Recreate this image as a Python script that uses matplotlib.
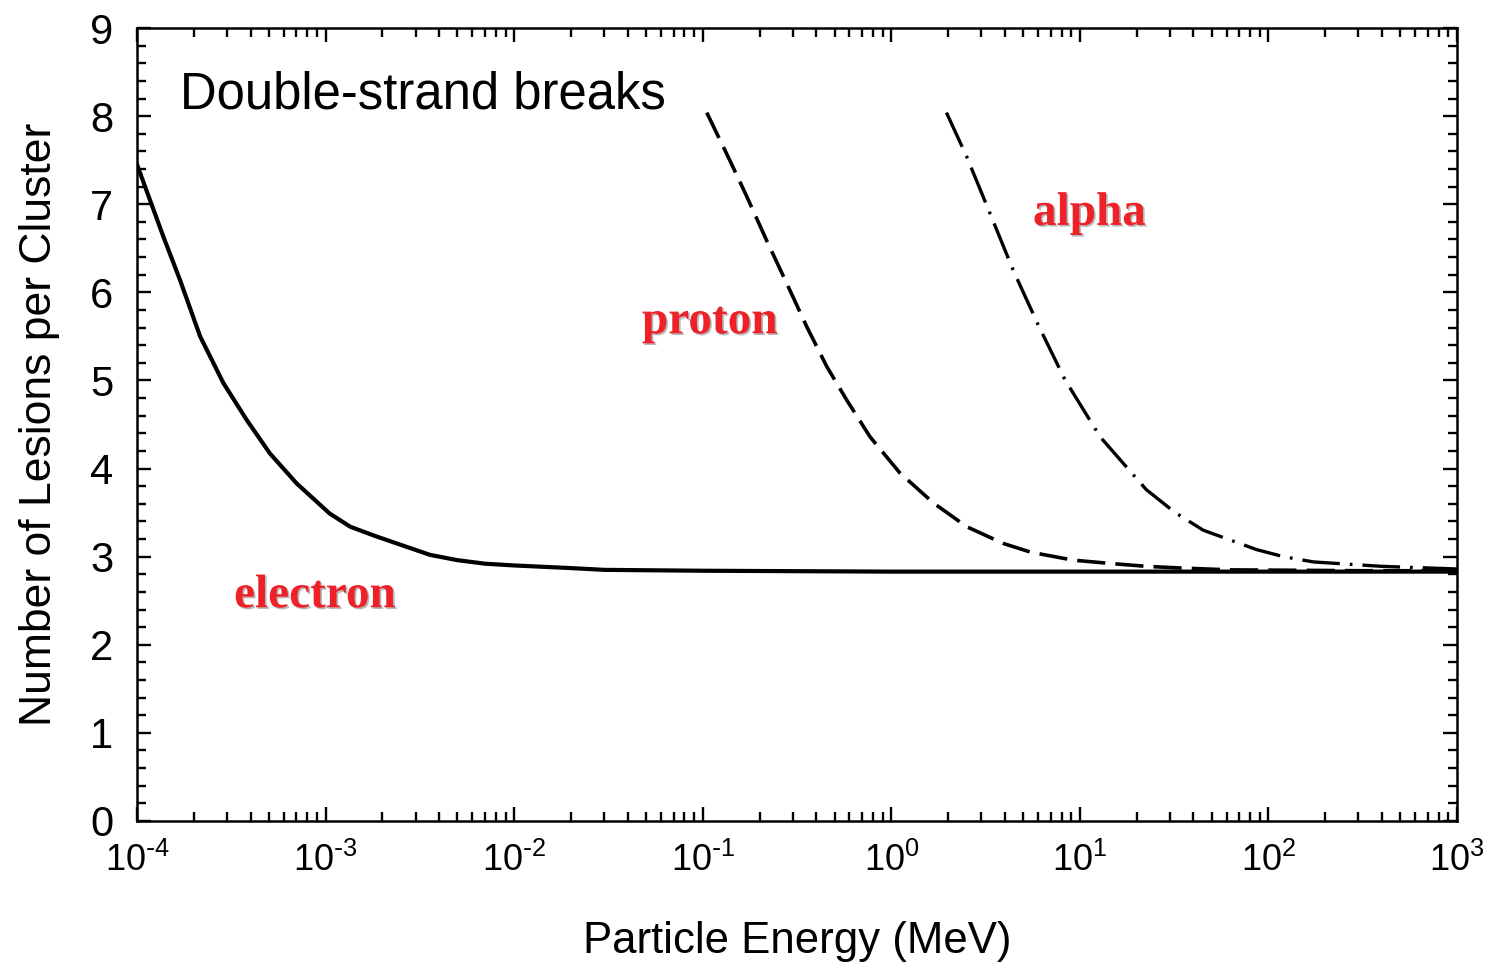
import matplotlib
matplotlib.use("Agg")
import matplotlib.pyplot as plt
import matplotlib.patheffects as pe
from matplotlib.ticker import LogLocator, MultipleLocator, FuncFormatter
import numpy as np

plt.rcParams['font.family'] = ['Liberation Sans', 'DejaVu Sans']
plt.rcParams['mathtext.default'] = 'regular'

# values (energy in MeV, lesions per cluster)
electron_E = [1.0e-4, 1.38e-4, 1.69e-4, 2.16e-4, 2.87e-4, 3.82e-4, 5.07e-4,
              7.03e-4, 1.05e-3, 1.35e-3, 1.8e-3, 2.38e-3, 3.58e-3, 5e-3, 7e-3,
              1e-2, 2e-2, 3e-2, 1e-1, 1.0, 10.0, 100.0, 1000.0]
electron_N = [7.45, 6.63, 6.14, 5.50, 4.97, 4.55, 4.17, 3.83, 3.49, 3.34, 3.24,
              3.15, 3.02, 2.96, 2.92, 2.90, 2.87, 2.85, 2.84, 2.83, 2.83, 2.83,
              2.83]

proton_E = [0.105, 0.139, 0.171, 0.218, 0.279, 0.356, 0.454, 0.579, 0.771,
            1.11, 1.67, 2.51, 3.92, 5.5, 9.23, 15.0, 22.5, 35.0, 62.5, 316.0,
            1000.0]
proton_N = [8.04, 7.50, 7.09, 6.59, 6.10, 5.61, 5.16, 4.78, 4.36, 3.95, 3.61,
            3.34, 3.15, 3.05, 2.96, 2.92, 2.89, 2.87, 2.85, 2.84, 2.84]

alpha_E = [1.96, 2.51, 3.33, 4.43, 6.01, 8.32, 12.8, 22.5, 32.0, 45.1, 86.5,
           120.0, 173.0, 398.0, 1000.0]
alpha_N = [8.04, 7.54, 6.90, 6.25, 5.63, 5.01, 4.36, 3.76, 3.50, 3.30, 3.08,
           3.00, 2.94, 2.89, 2.86]


def sci_label(v, pos):
    e = int(round(np.log10(v)))
    if e < 0:
        return r'$\mathdefault{10^{\text{-}%d}}$' % (-e)
    return r'$\mathdefault{10^{%d}}$' % e


fig = plt.figure(figsize=(14.88, 9.63), dpi=100)
ax = fig.add_axes([0.0921, 0.1475, 0.8871, 0.8234])

ax.plot(electron_E, electron_N, color='black', lw=3.0, solid_joinstyle='round')
ax.plot(proton_E, proton_N, color='black', lw=2.6, dashes=(7.8, 2.8))
ax.plot(alpha_E, alpha_N, color='black', lw=2.4, dashes=(11.3, 3.0, 0.8, 3.0))

ax.set_xscale('log')
ax.set_xlim(1e-4, 1e3)
ax.set_ylim(0, 9)
ax.xaxis.set_major_locator(LogLocator(base=10, numticks=20))
ax.xaxis.set_minor_locator(LogLocator(base=10, subs=range(2, 10), numticks=20))
ax.xaxis.set_major_formatter(FuncFormatter(sci_label))
ax.yaxis.set_major_locator(MultipleLocator(1))
ax.yaxis.set_minor_locator(MultipleLocator(0.2))

for s in ax.spines.values():
    s.set_linewidth(1.8)
ax.tick_params(which='both', direction='in', top=True, right=True, width=1.7)
ax.tick_params(which='major', length=10)
ax.tick_params(which='minor', length=6.5)
ax.tick_params(axis='x', which='major', labelsize=26, pad=16)
ax.tick_params(axis='y', which='major', labelsize=30, pad=17)

ax.set_xlabel('Particle Energy (MeV)', fontsize=31.5, labelpad=30)
ax.set_ylabel('Number of Lesions per Cluster', fontsize=32, labelpad=22)

ax.text(0.0326, 0.9155, 'Double-strand breaks', transform=ax.transAxes,
        fontsize=36.6, va='center', ha='left')

shadow = [pe.withSimplePatchShadow(offset=(1.2, -1.2), shadow_rgbFace='#b8b8b8', alpha=1)]
lab_kw = dict(family='Liberation Serif', weight='bold', color='#ee2028',
              fontsize=34, va='center', ha='left', path_effects=shadow)
ax.text(3.27e-4, 2.55, 'electron', **lab_kw)
ax.text(0.0476, 5.66, 'proton', **lab_kw)
ax.text(5.64, 6.89, 'alpha', **lab_kw)

fig.savefig('out.png', dpi=100)
